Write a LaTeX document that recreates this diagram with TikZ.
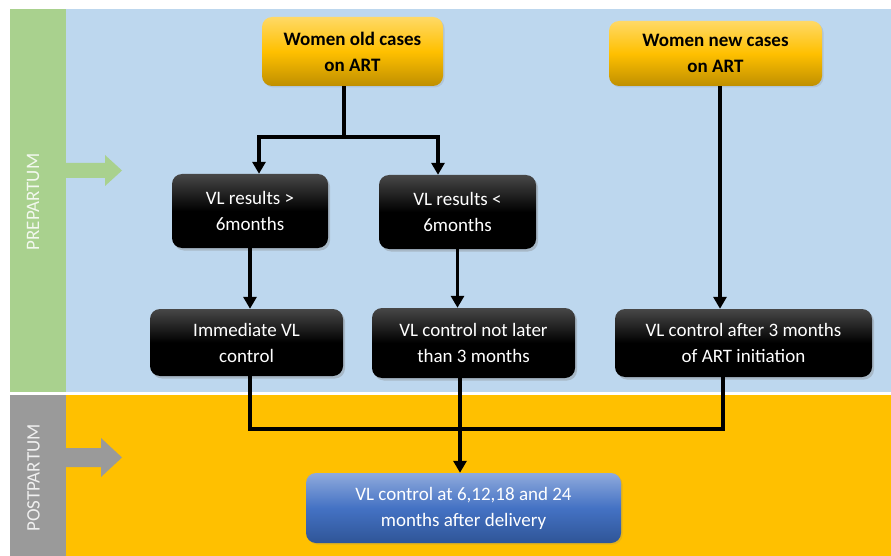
\documentclass[tikz,border=0pt]{standalone}
\usepackage{fontspec}
\setmainfont{Carlito}
\usetikzlibrary{arrows.meta,shadows}
\definecolor{laneblue}{HTML}{BDD7EE}
\definecolor{lanegreen}{HTML}{A9D18E}
\definecolor{laneorange}{HTML}{FFC000}
\definecolor{lanegray}{HTML}{9A9A9A}
\definecolor{goldtop}{HTML}{FFD966}
\definecolor{goldbot}{HTML}{BF8F00}
\definecolor{bluetop}{HTML}{8FAADC}
\definecolor{bluemid}{HTML}{4472C4}
\definecolor{bluebot}{HTML}{2F5597}

\begin{document}
\begin{tikzpicture}[
    x=1pt, y=-1pt,
    box/.style={rectangle, rounded corners=10pt, align=center, inner sep=0pt, font=\fontsize{19}{26}\selectfont},
    start/.style={box, top color=goldtop, bottom color=goldbot, middle color=laneorange, font=\fontsize{19}{26}\selectfont\bfseries, drop shadow={opacity=0.2, shadow xshift=1.5pt, shadow yshift=-1.5pt}},
    check/.style={box, text=white, top color=black!72, bottom color=black, middle color=black, drop shadow={opacity=0.35, shadow xshift=2pt, shadow yshift=-2.5pt}},
    result/.style={box, text=white, top color=bluetop, bottom color=bluebot, middle color=bluemid, drop shadow={opacity=0.2, shadow xshift=1.5pt, shadow yshift=-1.5pt}},
    lane/.style={rectangle, inner sep=0pt, outer sep=0pt},
    tag/.style={rotate=90, text=white, text opacity=0.85, inner sep=0pt, font=\fontsize{19}{24}\selectfont},
    link/.style={line width=3.4pt},
    arrow/.style={link, -{Triangle[length=12pt, width=13pt]}}
]
\useasboundingbox (0,0) rectangle (891,556);

% Lanes
\node[lane, fill=laneblue, minimum width=825, minimum height=383] (preLane) at (478.5,200.5) {};
\node[lane, fill=laneorange, minimum width=825, minimum height=161.5] (postLane) at (478.5,475.25) {};
\node[lane, fill=lanegreen, minimum width=56, minimum height=383] (preBar) at (38,200.5) {};
\node[lane, fill=lanegray, minimum width=56, minimum height=161.5] (postBar) at (38,475.25) {};
\node[tag] (preTag) at (33,202) {PREPARTUM};
\node[tag] (postTag) at (33.5,478) {POSTPARTUM};

% Lane arrows
\fill[lanegreen] (66,163) -- (105,163) -- (105,155) -- (122,170.5) -- (105,186) -- (105,178) -- (66,178) -- cycle;
\fill[lanegray] (66,448) -- (101,448) -- (101,438) -- (122,457.5) -- (101,477) -- (101,467) -- (66,467) -- cycle;

% Cases
\node[start, minimum width=181, minimum height=69] (oldCases) at (352.5,51.5) {Women old cases\\on ART};
\node[start, minimum width=213, minimum height=65] (newCases) at (715.5,53.5) {Women new cases\\on ART};

% VL results
\node[check, minimum width=156, minimum height=74] (vlOver) at (250,211) {VL results >\\6months};
\node[check, minimum width=157, minimum height=74] (vlUnder) at (457.5,212) {VL results <\\6months};

% VL control
\node[check, minimum width=193, minimum height=67] (immediate) at (246.5,342.5) {Immediate VL\\control};
\node[check, minimum width=203, minimum height=70] (notLater) at (473.5,343) {VL control not later\\than 3 months};
\node[check, minimum width=257, minimum height=68] (afterArt) at (743.5,343) {VL control after 3 months\\of ART initiation};
\node[result, minimum width=315, minimum height=70] (postControl) at (463.5,508) {VL control at 6,12,18 and 24\\months after delivery};

% Connectors
\coordinate (split) at (344,137);
\coordinate (splitOver) at (259,137);
\coordinate (splitUnder) at (438,137);
\draw[link] (oldCases.south -| split) -- (split);
\draw[arrow] (split) -- (splitOver) -- (splitOver |- vlOver.north);
\draw[arrow] (split) -- (splitUnder) -- (splitUnder |- vlUnder.north);
\draw[arrow] (vlOver.south) -- (vlOver.south |- immediate.north);
\draw[arrow] (vlUnder.south) -- (vlUnder.south |- notLater.north);
\draw[arrow] ([xshift=4.5pt]newCases.south) -- ([xshift=4.5pt]newCases.south |- afterArt.north);

% Postpartum
\coordinate (joinLeft) at (250,429);
\coordinate (joinRight) at (723,429);
\coordinate (joinMid) at (460,429);
\draw[link] (immediate.south -| joinLeft) -- (joinLeft) -- (joinRight) -- (afterArt.south -| joinRight);
\draw[arrow] (notLater.south -| joinMid) -- (joinMid |- postControl.north);

\end{tikzpicture}
\end{document}
